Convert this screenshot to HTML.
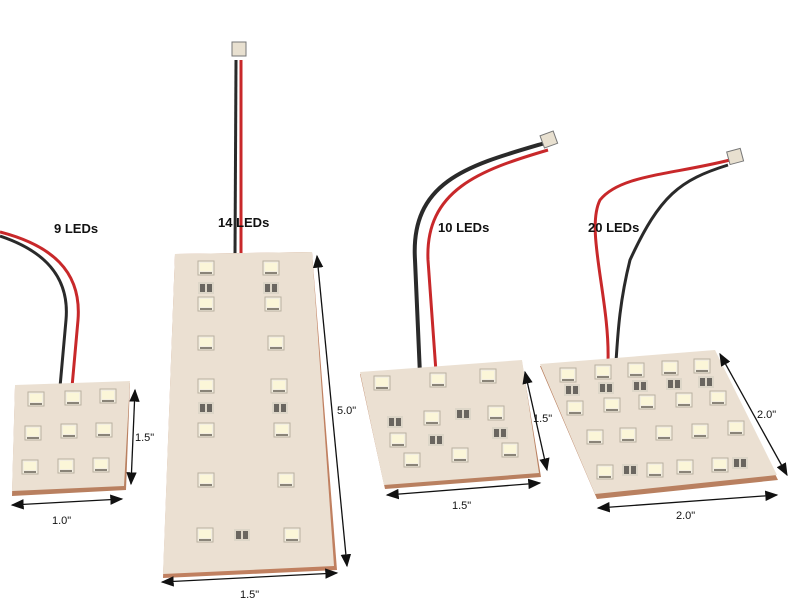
<!DOCTYPE html>
<html><head><style>
html,body{margin:0;padding:0;background:#fff;}
svg{display:block;}
text{font-family:"Liberation Sans",sans-serif;}
</style></head><body>
<svg width="800" height="600" viewBox="0 0 800 600" xmlns="http://www.w3.org/2000/svg">
<defs>
<marker id="a" markerWidth="10" markerHeight="8" refX="9" refY="4" orient="auto-start-reverse"><path d="M0,0 L10,4 L0,8 z" fill="#111"/></marker>
<g id="led"><rect x="-8" y="-7" width="16" height="14" fill="#f3eee0" stroke="#b8b0a0" stroke-width="1"/><rect x="-6" y="-5" width="12" height="8" fill="#fbf6d8"/><rect x="-6" y="4" width="12" height="2" fill="#8a8478"/></g>
<g id="res"><rect x="-8" y="-6" width="16" height="12" fill="#ddd6c8"/><rect x="-6" y="-4" width="5" height="8" fill="#6a6660"/><rect x="1" y="-4" width="5" height="8" fill="#6a6660"/></g>
</defs>

<!-- wires -->
<path d="M0,232 C50,245 82,270 78,320 L72,387" stroke="#c8282a" stroke-width="3" fill="none"/>
<path d="M0,236 C42,250 70,275 66,320 L60,387" stroke="#2a2a2a" stroke-width="3" fill="none"/>
<path d="M241,60 L241,255" stroke="#c8282a" stroke-width="3" fill="none"/>
<path d="M236,60 L235,255" stroke="#2a2a2a" stroke-width="3" fill="none"/>
<rect x="232" y="42" width="14" height="14" fill="#e8e0d0" stroke="#777"/>
<path d="M545,143 C470,165 410,180 415,260 L420,375" stroke="#2a2a2a" stroke-width="4" fill="none"/>
<path d="M548,150 C480,170 425,190 428,260 L436,372" stroke="#c8282a" stroke-width="3" fill="none"/>
<rect x="542" y="133" width="14" height="13" fill="#e8e0d0" stroke="#777" transform="rotate(-20 549 140)"/>
<path d="M730,160 C670,175 620,175 600,200 C585,230 610,300 608,362" stroke="#c8282a" stroke-width="3" fill="none"/>
<path d="M728,165 C680,180 660,195 630,260 C620,300 618,330 616,362" stroke="#2a2a2a" stroke-width="3" fill="none"/>
<rect x="728" y="150" width="14" height="13" fill="#e8e0d0" stroke="#777" transform="rotate(-15 735 156)"/>

<!-- boards -->
<polygon points="15,387 130,383 126,490 12,496" fill="#b98060"/>
<polygon points="15,385 130,381 124,486 12,491" fill="#ebe0d2"/>
<polygon points="175,254 312,252 337,570 163,578" fill="#c08060"/>
<polygon points="175,254 312,252 334,566 163,574" fill="#ebe0d2"/>
<polygon points="360,374 522,362 541,477 385,489" fill="#b98060"/>
<polygon points="360,372 522,360 539,473 384,485" fill="#ebe0d2"/>
<polygon points="540,366 715,352 778,480 597,499" fill="#b98060"/>
<polygon points="540,364 715,350 777,475 595,494" fill="#ebe0d2"/>

<!-- board1 LEDs -->
<use href="#led" x="36" y="399"/><use href="#led" x="73" y="398"/><use href="#led" x="108" y="396"/>
<use href="#led" x="33" y="433"/><use href="#led" x="69" y="431"/><use href="#led" x="104" y="430"/>
<use href="#led" x="30" y="467"/><use href="#led" x="66" y="466"/><use href="#led" x="101" y="465"/>
<!-- board2 -->
<g>
<use href="#led" x="206" y="268"/><use href="#led" x="271" y="268"/>
<use href="#res" x="206" y="288"/><use href="#res" x="271" y="288"/>
<use href="#led" x="206" y="304"/><use href="#led" x="273" y="304"/>
<use href="#led" x="206" y="343"/><use href="#led" x="276" y="343"/>
<use href="#led" x="206" y="386"/><use href="#led" x="279" y="386"/>
<use href="#res" x="206" y="408"/><use href="#res" x="280" y="408"/>
<use href="#led" x="206" y="430"/><use href="#led" x="282" y="430"/>
<use href="#led" x="206" y="480"/><use href="#led" x="286" y="480"/>
<use href="#led" x="205" y="535"/><use href="#res" x="242" y="535"/><use href="#led" x="292" y="535"/>
</g>
<!-- board3 -->
<use href="#led" x="382" y="383"/><use href="#led" x="438" y="380"/><use href="#led" x="488" y="376"/>
<use href="#led" x="432" y="418"/><use href="#res" x="463" y="414"/><use href="#led" x="496" y="413"/>
<use href="#res" x="395" y="422"/><use href="#led" x="398" y="440"/><use href="#res" x="436" y="440"/><use href="#res" x="500" y="433"/>
<use href="#led" x="412" y="460"/><use href="#led" x="460" y="455"/><use href="#led" x="510" y="450"/>
<!-- board4 -->
<use href="#led" x="568" y="375"/><use href="#led" x="603" y="372"/><use href="#led" x="636" y="370"/><use href="#led" x="670" y="368"/><use href="#led" x="702" y="366"/>
<use href="#res" x="572" y="390"/><use href="#res" x="606" y="388"/><use href="#res" x="640" y="386"/><use href="#res" x="674" y="384"/><use href="#res" x="706" y="382"/>
<use href="#led" x="575" y="408"/><use href="#led" x="612" y="405"/><use href="#led" x="647" y="402"/><use href="#led" x="684" y="400"/><use href="#led" x="718" y="398"/>
<use href="#led" x="595" y="437"/><use href="#led" x="628" y="435"/><use href="#led" x="664" y="433"/><use href="#led" x="700" y="431"/><use href="#led" x="736" y="428"/>
<use href="#led" x="605" y="472"/><use href="#res" x="630" y="470"/><use href="#led" x="655" y="470"/><use href="#led" x="685" y="467"/><use href="#led" x="720" y="465"/><use href="#res" x="740" y="463"/>

<!-- dimension lines -->
<g stroke="#111" stroke-width="1.3" fill="none">
<line x1="135" y1="390" x2="131" y2="484" marker-start="url(#a)" marker-end="url(#a)"/>
<line x1="12" y1="505" x2="122" y2="499" marker-start="url(#a)" marker-end="url(#a)"/>
<line x1="317" y1="256" x2="347" y2="566" marker-start="url(#a)" marker-end="url(#a)"/>
<line x1="162" y1="582" x2="337" y2="573" marker-start="url(#a)" marker-end="url(#a)"/>
<line x1="525" y1="372" x2="547" y2="470" marker-start="url(#a)" marker-end="url(#a)"/>
<line x1="387" y1="495" x2="540" y2="483" marker-start="url(#a)" marker-end="url(#a)"/>
<line x1="720" y1="354" x2="787" y2="475" marker-start="url(#a)" marker-end="url(#a)"/>
<line x1="598" y1="508" x2="777" y2="495" marker-start="url(#a)" marker-end="url(#a)"/>
</g>

<!-- labels -->
<g font-size="13" font-weight="bold" fill="#111">
<text x="54" y="233">9 LEDs</text>
<text x="218" y="227">14 LEDs</text>
<text x="438" y="232">10 LEDs</text>
<text x="588" y="232">20 LEDs</text>
</g>
<g font-size="11" fill="#111">
<text x="135" y="441">1.5"</text>
<text x="52" y="524">1.0"</text>
<text x="337" y="414">5.0"</text>
<text x="240" y="598">1.5"</text>
<text x="533" y="422">1.5"</text>
<text x="452" y="509">1.5"</text>
<text x="757" y="418">2.0"</text>
<text x="676" y="519">2.0"</text>
</g>
</svg>
</body></html>
